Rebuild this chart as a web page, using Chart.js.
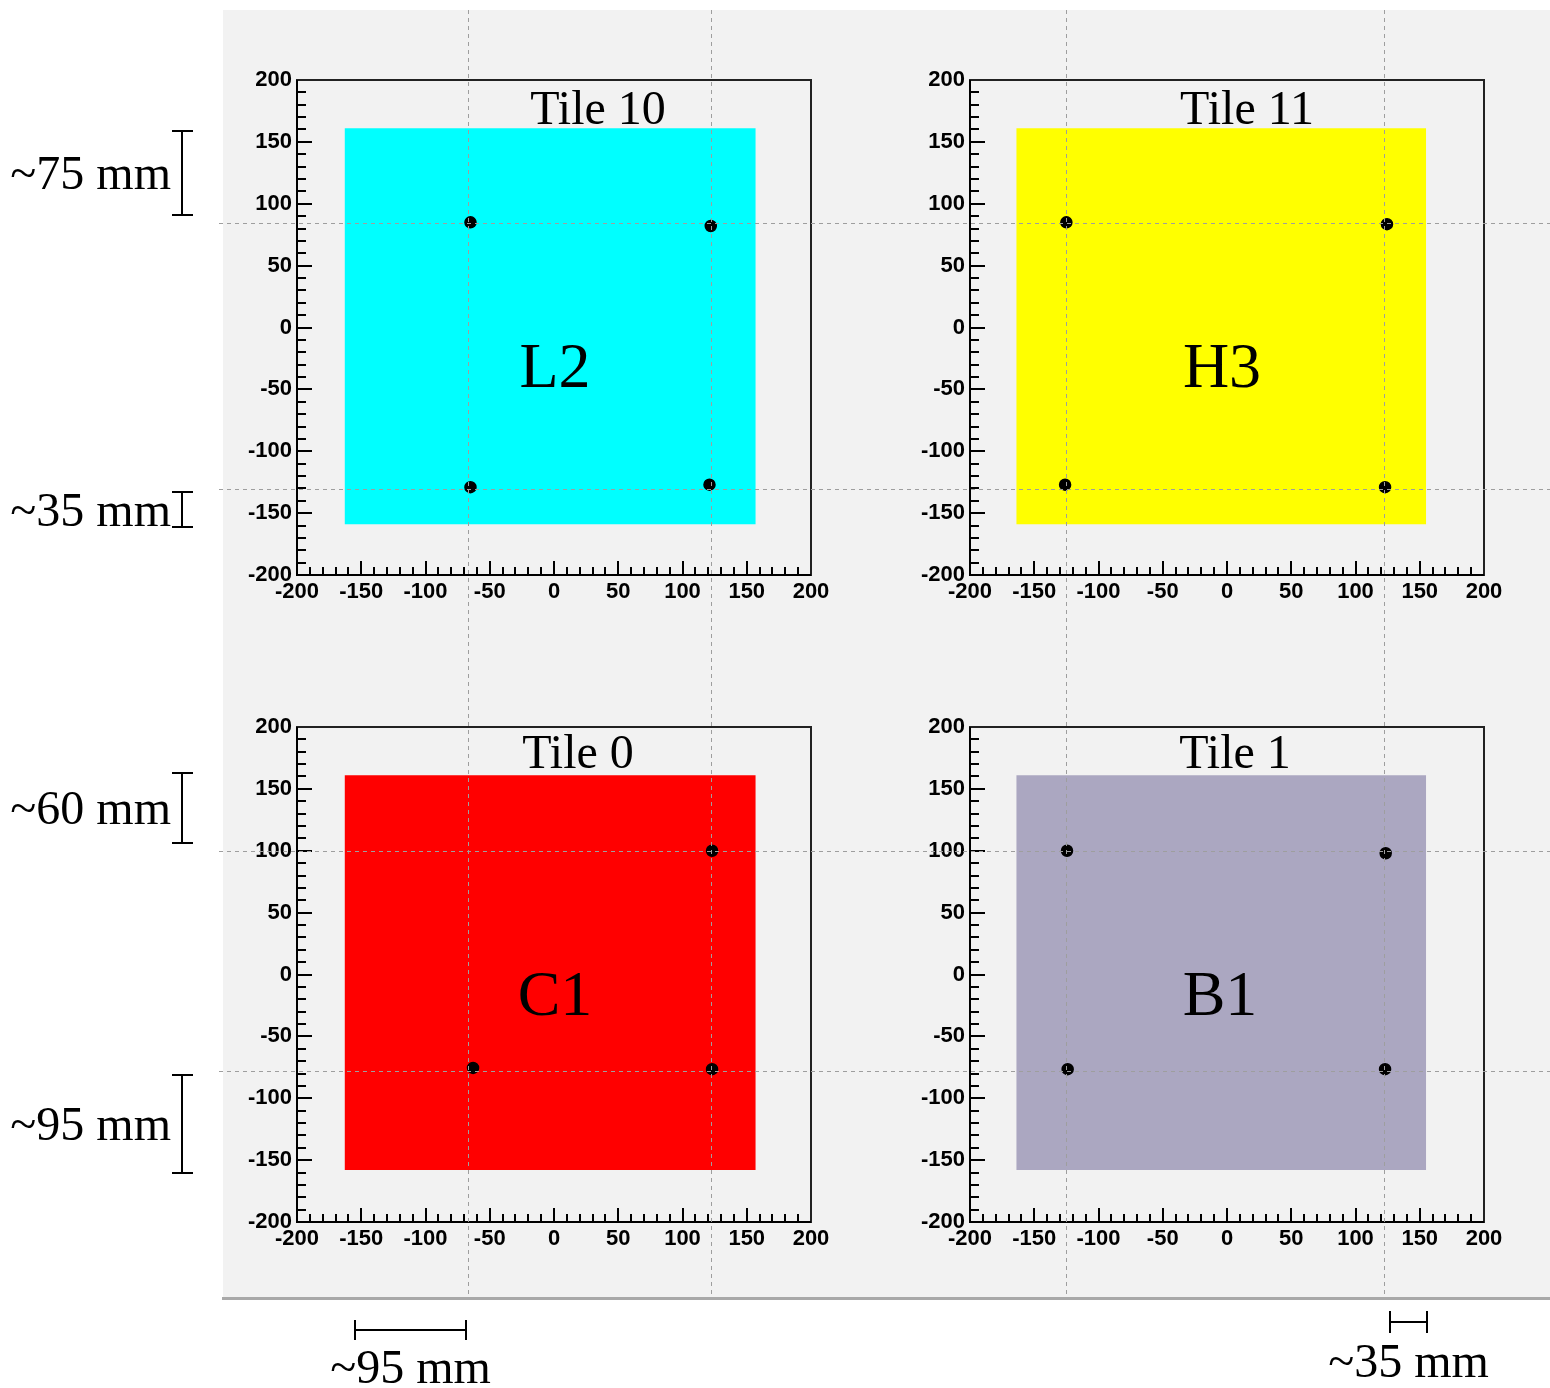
<!DOCTYPE html>
<html>
<head>
<meta charset="utf-8">
<title>Tile sensor positions</title>
<script src="https://cdn.jsdelivr.net/npm/chart.js@4/dist/chart.umd.min.js"></script>
<style>
  html, body { margin: 0; padding: 0; background: #ffffff; }
  #page { position: relative; width: 1550px; height: 1388px; overflow: hidden; }
  #pad { position: absolute; left: 223px; top: 10px; width: 1327px; height: 1287px; background: #f2f2f2; }
  #pad-edge { position: absolute; left: 222px; top: 1297px; width: 1328px; height: 3px; background: #a9a9a9; }
  canvas.panel { position: absolute; }
  #overlay { position: absolute; left: 0; top: 0; pointer-events: none; }
</style>
</head>
<body>
<div id="page">
  <div id="pad"></div>
  <div id="pad-edge"></div>
  <canvas id="tile10" class="panel" width="614" height="560" style="left:227px;top:60px;width:614px;height:560px"></canvas>
  <canvas id="tile11" class="panel" width="614" height="560" style="left:900px;top:60px;width:614px;height:560px"></canvas>
  <canvas id="tile0"  class="panel" width="614" height="560" style="left:227px;top:707px;width:614px;height:560px"></canvas>
  <canvas id="tile1"  class="panel" width="614" height="560" style="left:900px;top:707px;width:614px;height:560px"></canvas>
  <canvas id="overlay" width="1550" height="1388" style="width:1550px;height:1388px"></canvas>
</div>
<script>
// ---- data (mm) ----
const axisTicks = [-200, -150, -100, -50, 0, 50, 100, 150, 200];
const axisMin = -200;
const axisMax = 200;
const minorStep = 10;

const tileNames  = ['Tile 10', 'Tile 11', 'Tile 0', 'Tile 1'];
const tileLabels = ['L2', 'H3', 'C1', 'B1'];

// scintillator outline per tile
const tileXmin = [-163, -164, -163, -164];
const tileXmax = [157, 155, 157, 155];
const tileYmin = [-159, -159, -158, -158];
const tileYmax = [161, 161, 161, 161];

// measured sensor positions per tile
const sensorX10 = [-65, 122, -65, 121];
const sensorY10 = [85, 82, -129, -127];
const sensorX11 = [-125, 124.5, -126, 123];
const sensorY11 = [85, 83.5, -127, -129];
const sensorX0  = [123, -63, 123];
const sensorY0  = [100, -75.5, -76.5];
const sensorX1  = [-124.5, 123.5, -124, 123];
const sensorY1  = [100, 98, -76.5, -76.5];

// guide lines (mm)
const guideXLeft   = [-67, 122];
const guideXRight  = [-125, 122];
const guideYTop    = [84.5, -130.5];
const guideYBottom = [100, -78];

// distance annotations: [from, to] in mm
const spanLabelsTop    = ['~75 mm', '~35 mm'];
const spanRangesTop    = [[159, 91], [-133, -161]];
const spanLabelsBottom = ['~60 mm', '~95 mm'];
const spanRangesBottom = [[163, 106], [-81, -160]];
const spanLabelLeftCol  = '~95 mm';
const spanRangeLeftCol  = [-155, -68.5];
const spanLabelRightCol = '~35 mm';
const spanRangeRightCol = [127, 156];

// ---- styling ----
const tileColors = ['#00ffff', '#ffff00', '#ff0000', '#aba7c1'];
const serif = '"Liberation Serif", "DejaVu Serif", serif';
const sans = '"Liberation Sans", Arial, sans-serif';
// title / label placement relative to the plot frame (px)
const titleShift = [44, 20, 24, 8];
const titleBase  = [44, 44, 41, 41];
const labelShift = [1, -5, 1, -7];
const labelBase  = [307, 307, 288, 288];

function points(xs, ys) { return xs.map((x, i) => ({ x, y: ys[i] })); }

const sensorSets = [
  points(sensorX10, sensorY10),
  points(sensorX11, sensorY11),
  points(sensorX0, sensorY0),
  points(sensorX1, sensorY1)
];

const frameAndTicks = {
  id: 'frameAndTicks',
  afterDraw(chart) {
    const { ctx, chartArea: a, scales: { x, y } } = chart;
    const idx = chart.options.plugins.tileInfo.index;
    ctx.save();
    // ticks, pointing into the frame
    ctx.strokeStyle = '#000';
    ctx.lineWidth = 2;
    for (let v = axisMin; v <= axisMax; v += minorStep) {
      const major = v % 50 === 0;
      const px = Math.round(x.getPixelForValue(v));
      const py = Math.round(y.getPixelForValue(v));
      ctx.beginPath();
      ctx.moveTo(px, a.bottom);
      ctx.lineTo(px, a.bottom - (major ? 14 : 8));
      ctx.moveTo(a.left, py);
      ctx.lineTo(a.left + (major ? 15 : 9), py);
      ctx.stroke();
    }
    // frame
    ctx.strokeStyle = '#222';
    ctx.strokeRect(a.left, a.top, a.right - a.left, a.bottom - a.top);
    ctx.strokeStyle = '#000';
    ctx.beginPath();
    ctx.moveTo(a.left, a.top);
    ctx.lineTo(a.left, a.bottom);
    ctx.lineTo(a.right, a.bottom);
    ctx.stroke();
    // title and tile label
    const cx = (a.left + a.right) / 2;
    ctx.fillStyle = '#000';
    ctx.textAlign = 'center';
    ctx.textBaseline = 'alphabetic';
    ctx.font = '48px ' + serif;
    ctx.fillText(tileNames[idx], cx + titleShift[idx], a.top + titleBase[idx]);
    ctx.font = '64px ' + serif;
    ctx.fillText(tileLabels[idx], cx + labelShift[idx], a.top + labelBase[idx]);
    ctx.restore();
  }
};

function makeTile(canvasId, idx) {
  const tickFont = { family: sans, weight: 'bold', size: 22 };
  return new Chart(document.getElementById(canvasId), {
    type: 'scatter',
    data: {
      datasets: [
        {
          label: 'sensors',
          data: sensorSets[idx],
          pointRadius: 5.5,
          pointBorderWidth: 1.5,
          pointBackgroundColor: '#000',
          pointBorderColor: '#000',
          showLine: false,
          order: 1
        },
        {
          label: 'tile',
          type: 'line',
          data: [{ x: tileXmin[idx], y: tileYmax[idx] }, { x: tileXmax[idx], y: tileYmax[idx] }],
          fill: { value: tileYmin[idx] },
          backgroundColor: tileColors[idx],
          borderWidth: 0,
          pointRadius: 0,
          tension: 0,
          order: 2
        }
      ]
    },
    options: {
      responsive: false,
      animation: false,
      events: [],
      layout: { padding: { left: 0, top: 20, right: 30, bottom: 0 } },
      plugins: {
        legend: { display: false },
        tooltip: { enabled: false },
        title: { display: false },
        tileInfo: { index: idx }
      },
      scales: {
        x: {
          type: 'linear',
          min: axisMin, max: axisMax,
          grid: { display: false, drawTicks: false },
          border: { display: false },
          afterBuildTicks: s => { s.ticks = axisTicks.map(v => ({ value: v })); },
          afterFit: s => { s.height = 45; },
          ticks: { font: tickFont, color: '#000', padding: 4, maxRotation: 0, autoSkip: false }
        },
        y: {
          type: 'linear',
          min: axisMin, max: axisMax,
          grid: { display: false, drawTicks: false },
          border: { display: false },
          afterBuildTicks: s => { s.ticks = axisTicks.map(v => ({ value: v })); },
          afterFit: s => { s.width = 70; },
          ticks: { font: tickFont, color: '#000', padding: 5, autoSkip: false }
        }
      }
    },
    plugins: [frameAndTicks]
  });
}

const charts = [
  makeTile('tile10', 0),
  makeTile('tile11', 1),
  makeTile('tile0', 2),
  makeTile('tile1', 3)
];

// ---- page-wide guide lines and distance annotations ----
function drawOverlay() {
  const ov = document.getElementById('overlay');
  const ctx = ov.getContext('2d');
  ctx.clearRect(0, 0, ov.width, ov.height);
  const off = c => ({ x: c.canvas.offsetLeft, y: c.canvas.offsetTop });
  const xPix = (c, v) => off(c).x + c.scales.x.getPixelForValue(v);
  const yPix = (c, v) => off(c).y + c.scales.y.getPixelForValue(v);

  const padTop = 10, padBottom = 1297, padLeft = 219, padRight = 1550;

  ctx.save();
  ctx.strokeStyle = '#9e9e9e';
  ctx.lineWidth = 1;
  ctx.setLineDash([4, 4]);
  const vline = px => {
    const p = Math.round(px) + 0.5;
    ctx.beginPath(); ctx.moveTo(p, padTop); ctx.lineTo(p, padBottom); ctx.stroke();
  };
  const hline = py => {
    const p = Math.round(py) + 0.5;
    ctx.beginPath(); ctx.moveTo(padLeft, p); ctx.lineTo(padRight, p); ctx.stroke();
  };
  guideXLeft.forEach(v => vline(xPix(charts[0], v)));
  guideXRight.forEach(v => vline(xPix(charts[1], v)));
  guideYTop.forEach(v => hline(yPix(charts[0], v)));
  guideYBottom.forEach(v => hline(yPix(charts[2], v)));
  ctx.restore();

  // vertical spans on the left margin
  ctx.save();
  ctx.strokeStyle = '#000';
  ctx.fillStyle = '#000';
  ctx.lineWidth = 2;
  ctx.font = '48px ' + serif;
  const barX = 182, capHalf = 10;
  const vspan = (c, range, text) => {
    const y1 = Math.round(yPix(c, range[0]));
    const y2 = Math.round(yPix(c, range[1]));
    ctx.beginPath();
    ctx.moveTo(barX, y1); ctx.lineTo(barX, y2);
    ctx.moveTo(barX - capHalf, y1); ctx.lineTo(barX + capHalf + 1, y1);
    ctx.moveTo(barX - capHalf, y2); ctx.lineTo(barX + capHalf + 1, y2);
    ctx.stroke();
    ctx.textAlign = 'right';
    ctx.textBaseline = 'alphabetic';
    ctx.fillText(text, 171, (y1 + y2) / 2 + 16);
  };
  spanRangesTop.forEach((r, i) => vspan(charts[0], r, spanLabelsTop[i]));
  spanRangesBottom.forEach((r, i) => vspan(charts[2], r, spanLabelsBottom[i]));

  // horizontal spans below the pad
  const hspan = (c, range, text, barY, capH, textY) => {
    const x1 = Math.round(xPix(c, range[0]));
    const x2 = Math.round(xPix(c, range[1]));
    ctx.beginPath();
    ctx.moveTo(x1, barY); ctx.lineTo(x2, barY);
    ctx.moveTo(x1, barY - capH); ctx.lineTo(x1, barY + capH);
    ctx.moveTo(x2, barY - capH); ctx.lineTo(x2, barY + capH);
    ctx.stroke();
    ctx.textAlign = 'center';
    ctx.fillText(text, (x1 + x2) / 2, textY);
  };
  hspan(charts[2], spanRangeLeftCol, spanLabelLeftCol, 1330, 10, 1383);
  hspan(charts[3], spanRangeRightCol, spanLabelRightCol, 1322, 11, 1377);
  ctx.restore();
}
drawOverlay();
</script>
</body>
</html>
